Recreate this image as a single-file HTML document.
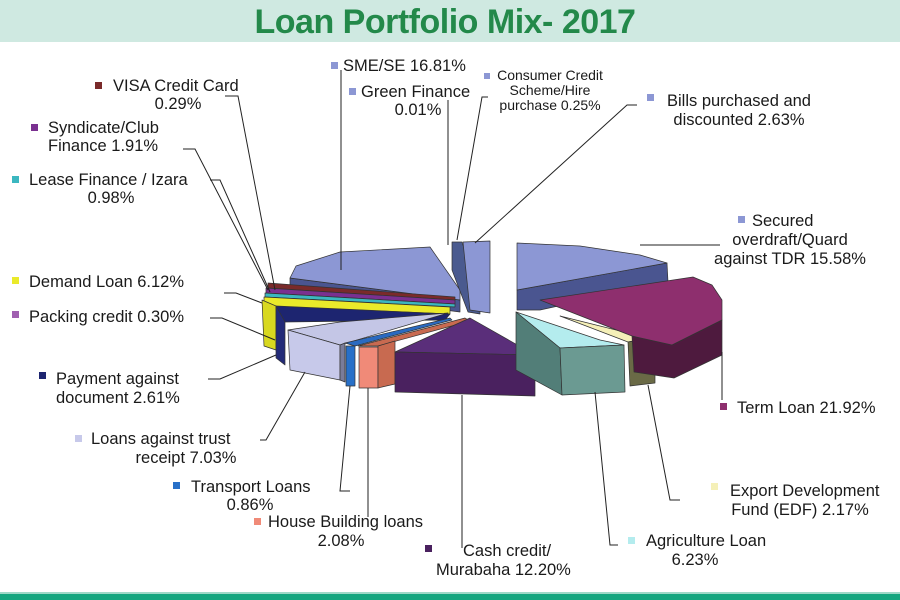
<!DOCTYPE html>
<html><head><meta charset="utf-8"><style>
html,body{margin:0;padding:0;background:#fff;}
svg{display:block;}
text{font-family:"Liberation Sans",sans-serif;font-size:16.5px;fill:#1a1a1a;}
</style></head><body>
<svg width="900" height="600" viewBox="0 0 900 600" xmlns="http://www.w3.org/2000/svg">
<rect x="0" y="0" width="900" height="42" fill="#cfe9e1"/>
<text x="445" y="33" text-anchor="middle" style="font-size:34px;font-weight:bold;fill:#23894a;letter-spacing:-0.5px">Loan Portfolio Mix- 2017</text>
<rect x="0" y="592" width="900" height="2" fill="#9fd9c8"/>
<rect x="0" y="594" width="900" height="6" fill="#15a67f"/>

<g stroke="#333" stroke-width="0.7" stroke-linejoin="round">
<polygon points="290,278 460,300 460,312 290,290" fill="#4a5590"/>
<polygon points="290,278 296,266 340,252 430,247 460,290 460,300" fill="#8c97d4"/>
<polygon points="452,242 462,242 480,300 480,314 468,312 452,270" fill="#4a5a8f"/>
<polygon points="463,242 490,241 490,313 470,310" fill="#8c97d4"/>
<polygon points="268,283 455,297 455,300 268,288" fill="#7a2a2a"/>
<polygon points="266,288 455,300 455,304 266,293" fill="#7a3090"/>
<polygon points="265,293 455,304 455,307 265,297" fill="#3bb7c0"/>
<polygon points="264,297 450,307 450,314 264,306" fill="#eaea2a"/>
<polygon points="262,300 276,306 276,350 264,346" fill="#d8d820"/>
<polygon points="276,306 450,314 445,320 285,322" fill="#1d2570"/>
<polygon points="276,306 285,322 285,365 276,358" fill="#222a78"/>
<polygon points="288,330 340,322 448,313 340,345" fill="#c4c6e6"/>
<polygon points="288,330 340,345 340,380 290,370" fill="#c7c9ea"/>
<polygon points="340,345 345,343 345,382 340,380" fill="#7a7c99"/>
<polygon points="345,343 450,318 452,320 355,346" fill="#2a6ac0"/>
<polygon points="346,346 355,346 355,386 346,386" fill="#2870c8"/>
<polygon points="358,346 465,318 470,321 378,346" fill="#c86a50"/>
<polygon points="359,347 378,347 378,388 359,388" fill="#f08a78"/>
<polygon points="378,346 395,341 395,384 378,388" fill="#c86a50"/>
<polygon points="395,352 470,318 535,355" fill="#5a2e7a"/>
<polygon points="395,352 535,355 535,396 395,392" fill="#4a215f"/>
<polygon points="516,312 600,340 624,345 560,348" fill="#b4ecee"/>
<polygon points="516,312 560,348 562,395 516,370" fill="#527e78"/>
<polygon points="560,348 624,345 625,392 562,395" fill="#6b9a92"/>
<polygon points="560,316 648,338 628,342" fill="#f5f0b8"/>
<polygon points="628,342 655,338 655,383 630,386" fill="#6a6a46"/>
<polygon points="517,290 667,263 668,282 540,310 517,310" fill="#4a5590"/>
<polygon points="517,243 580,246 640,255 667,263 517,290" fill="#8c97d4"/>
<polygon points="632,336 672,345 722,320 722,355 674,378 634,372" fill="#4e1a3e"/>
<polygon points="540,300 693,277 712,285 722,300 722,320 672,345 632,336" fill="#8e2f6e"/>
</g>

<g stroke="#222" stroke-width="1" fill="none">
<polyline points="225,96 238,96 275,290"/>
<polyline points="183,149 195,149 268,290"/>
<polyline points="210,180 220,180 270,292"/>
<polyline points="341,70 341,270"/>
<polyline points="448,100 448,245"/>
<polyline points="488,97 482,97 457,240"/>
<polyline points="637,105 627,105 475,243"/>
<polyline points="720,245 640,245"/>
<polyline points="722,352 722,400"/>
<polyline points="680,500 670,500 648,385"/>
<polyline points="618,545 610,545 595,392"/>
<polyline points="462,548 462,395"/>
<polyline points="368,517 368,388"/>
<polyline points="350,491 340,491 350,386"/>
<polyline points="260,440 266,440 305,372"/>
<polyline points="208,379 220,379 276,355"/>
<polyline points="210,318 222,318 275,340"/>
<polyline points="224,293 236,293 262,303"/>
</g>

<g>
<rect x="95" y="82" width="7" height="7" fill="#7a2a2a"/>
<text x="113" y="91">VISA Credit Card</text><text x="178" y="109" text-anchor="middle">0.29%</text>
<rect x="31" y="124" width="7" height="7" fill="#7a3090"/>
<text x="48" y="133">Syndicate/Club</text><text x="48" y="151">Finance 1.91%</text>
<rect x="12" y="176" width="7" height="7" fill="#3bb7c0"/>
<text x="29" y="185">Lease Finance / Izara</text><text x="111" y="203" text-anchor="middle">0.98%</text>
<rect x="331" y="62" width="7" height="7" fill="#8c97d4"/>
<text x="343" y="71">SME/SE 16.81%</text>
<rect x="349" y="88" width="7" height="7" fill="#8c97d4"/>
<text x="361" y="97">Green Finance</text><text x="418" y="115" text-anchor="middle">0.01%</text>
<rect x="484" y="73" width="6" height="6" fill="#8c97d4"/>
<text x="550" y="80" text-anchor="middle" style="font-size:14px">Consumer Credit</text>
<text x="550" y="95" text-anchor="middle" style="font-size:14px">Scheme/Hire</text>
<text x="550" y="110" text-anchor="middle" style="font-size:14px">purchase 0.25%</text>
<rect x="647" y="94" width="7" height="7" fill="#8c97d4"/>
<text x="739" y="106" text-anchor="middle">Bills purchased and</text><text x="739" y="125" text-anchor="middle">discounted 2.63%</text>
<rect x="738" y="216" width="7" height="7" fill="#8c97d4"/>
<text x="752" y="226">Secured</text>
<text x="790" y="245" text-anchor="middle">overdraft/Quard</text>
<text x="790" y="264" text-anchor="middle">against TDR 15.58%</text>
<rect x="720" y="403" width="7" height="7" fill="#8e2f6e"/>
<text x="737" y="413">Term Loan 21.92%</text>
<rect x="711" y="483" width="7" height="7" fill="#f5f0b8"/>
<text x="730" y="496">Export Development</text><text x="800" y="515" text-anchor="middle">Fund (EDF) 2.17%</text>
<rect x="628" y="537" width="7" height="7" fill="#b4ecee"/>
<text x="646" y="546">Agriculture Loan</text><text x="695" y="565" text-anchor="middle">6.23%</text>
<rect x="425" y="545" width="7" height="7" fill="#4a215f"/>
<text x="463" y="556">Cash credit/</text><text x="436" y="575">Murabaha 12.20%</text>
<rect x="254" y="518" width="7" height="7" fill="#f08a78"/>
<text x="268" y="527">House Building loans</text><text x="341" y="546" text-anchor="middle">2.08%</text>
<rect x="173" y="482" width="7" height="7" fill="#2870c8"/>
<text x="191" y="492">Transport Loans</text><text x="250" y="510" text-anchor="middle">0.86%</text>
<rect x="75" y="435" width="7" height="7" fill="#c7c9ea"/>
<text x="91" y="444">Loans against trust</text><text x="186" y="463" text-anchor="middle">receipt 7.03%</text>
<rect x="39" y="372" width="7" height="7" fill="#1d2570"/>
<text x="56" y="384">Payment  against</text><text x="56" y="403">document 2.61%</text>
<rect x="12" y="311" width="7" height="7" fill="#a060b0"/>
<text x="29" y="322">Packing credit 0.30%</text>
<rect x="12" y="277" width="7" height="7" fill="#eaea2a"/>
<text x="29" y="287">Demand Loan 6.12%</text>
</g>
</svg>
</body></html>
